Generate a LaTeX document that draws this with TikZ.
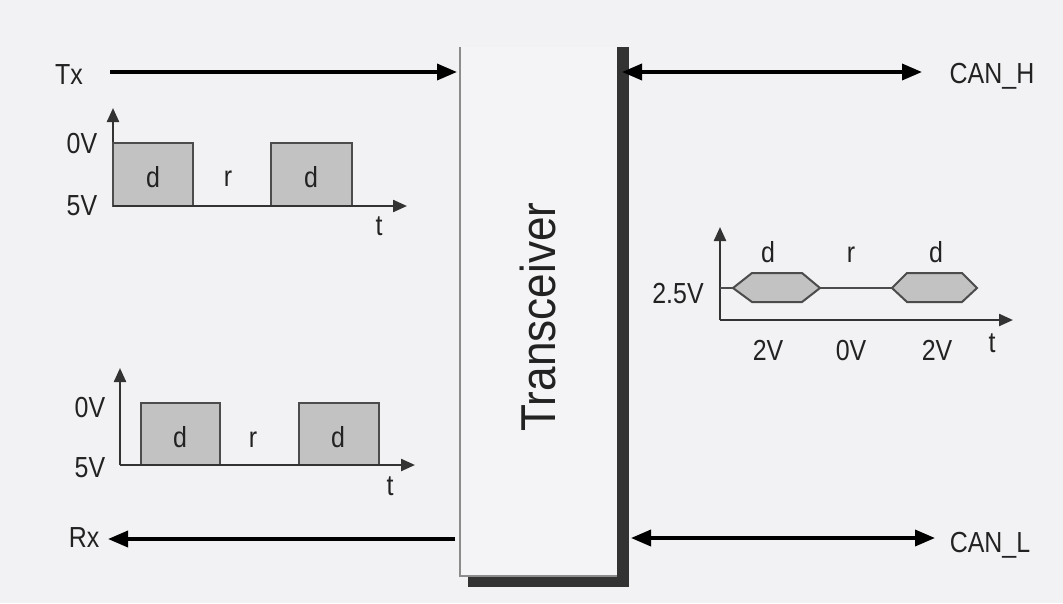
\documentclass[tikz,border=0pt]{standalone}
\usepackage{fontspec}
\setmainfont{Liberation Sans}
\usetikzlibrary{arrows.meta}
\definecolor{bg}{HTML}{F2F2F4}
\definecolor{boxin}{HTML}{F4F4F6}
\definecolor{bitfill}{HTML}{C2C2C2}
\definecolor{ink}{HTML}{222222}
\definecolor{shadow}{HTML}{333333}
\newcommand{\nar}[1]{\scalebox{0.86}[1]{#1}}
\begin{document}
\begin{tikzpicture}[x=1pt,y=-1pt,
  lbl/.style={font=\fontsize{29}{34}\selectfont, text=ink, inner sep=0pt, anchor=base},
  sig/.style={line width=3.5pt, draw=black, -{Triangle[length=20pt,width=16pt]}},
  dsig/.style={line width=3.5pt, draw=black, {Triangle[length=20pt,width=16pt]}-{Triangle[length=20pt,width=16pt]}},
  axis/.style={line width=2.3pt, draw=black!80, -{Triangle[length=14pt,width=12pt]}},
  bit/.style={fill=bitfill, draw=black!70, line width=2pt},
  trace/.style={line width=2pt, draw=black!70}]
\fill[bg] (0,0) rectangle (1063,603);
\useasboundingbox (0,0) rectangle (1063,603);

% Transceiver box with shadow
\fill[shadow] (617,47) rectangle (629,587);
\fill[shadow] (468,576) rectangle (629,587);
\fill[boxin] (460,47) rectangle (617,576);
\draw[line width=2pt, draw=black!45] (460,47) -- (460,576) -- (617,576);
\node[font=\fontsize{49}{56}\selectfont, text=ink, rotate=90, inner sep=0pt] (trx) at (538,317) {\scalebox{0.9}[1]{Transceiver}};

% signal labels
\node[lbl] (tx) at (69,84) {\nar{Tx}};
\node[lbl] (rx) at (84,547) {\nar{Rx}};
\node[lbl] (canh) at (992,83) {\nar{CAN\_H}};
\node[lbl] (canl) at (990,552) {\nar{CAN\_L}};

\coordinate (txs) at (110,72);
\coordinate (txe) at (457,72);
\coordinate (rxs) at (455,539);
\coordinate (rxe) at (108,539);
\coordinate (chs) at (622,72);
\coordinate (che) at (922,72);
\coordinate (cls) at (631,538);
\coordinate (cle) at (935,538);
\draw[sig] (txs) -- (txe);
\draw[sig] (rxs) -- (rxe);
\draw[dsig] (chs) -- (che);
\draw[dsig] (cls) -- (cle);

% Tx chart
\draw[axis] (113,206) -- (113,108);
\draw[bit] (113,206) rectangle (193,143);
\draw[bit] (271,206) rectangle (352,143);
\draw[axis] (113,206) -- (407,206);
\node[lbl] (t1zero) at (82,153) {\nar{0V}};
\node[lbl] (t1five) at (82,215) {\nar{5V}};
\node[lbl] (t1d1) at (153,187) {\nar{d}};
\node[lbl] (t1r) at (228,186) {\nar{r}};
\node[lbl] (t1d2) at (311,187) {\nar{d}};
\node[lbl] (t1t) at (379,235) {\nar{t}};

% Rx chart
\draw[axis] (120,465) -- (120,368);
\draw[bit] (141,465) rectangle (220,403);
\draw[bit] (299,465) rectangle (379,403);
\draw[axis] (120,465) -- (415,465);
\node[lbl] (t2zero) at (90,417) {\nar{0V}};
\node[lbl] (t2five) at (90,477) {\nar{5V}};
\node[lbl] (t2d1) at (180,447) {\nar{d}};
\node[lbl] (t2r) at (253,447) {\nar{r}};
\node[lbl] (t2d2) at (338,447) {\nar{d}};
\node[lbl] (t2t) at (390,495) {\nar{t}};

% CAN chart
\draw[axis] (720,320) -- (720,227);
\draw[axis] (720,320) -- (1013,320);
\draw[trace] (720,288) -- (733,288);
\draw[trace] (820,288) -- (892,288);
\draw[bit] (733,288) -- (752,273) -- (802,273) -- (820,288) -- (802,302) -- (752,302) -- cycle;
\draw[bit] (892,288) -- (907,273) -- (962,273) -- (977,288) -- (962,302) -- (907,302) -- cycle;
\node[lbl] (hv) at (678,303) {\nar{2.5V}};
\node[lbl] (hd1) at (768,262) {\nar{d}};
\node[lbl] (hr) at (851,262) {\nar{r}};
\node[lbl] (hd2) at (936,262) {\nar{d}};
\node[lbl] (h2a) at (768,360) {\nar{2V}};
\node[lbl] (h0) at (851,360) {\nar{0V}};
\node[lbl] (h2b) at (937,360) {\nar{2V}};
\node[lbl] (ht) at (992,352) {\nar{t}};
\end{tikzpicture}
\end{document}
